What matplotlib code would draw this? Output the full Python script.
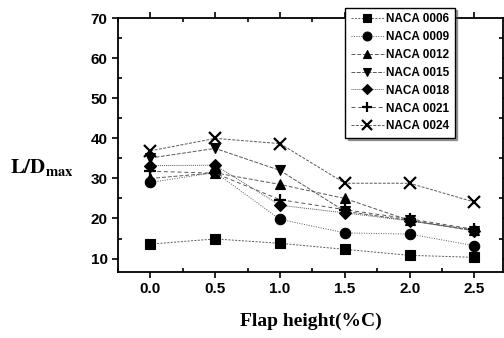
import numpy as np
from matplotlib import pyplot as plt
from matplotlib.ticker import MultipleLocator

plt.rcParams['mathtext.fontset'] = 'stix'

# =============================================================================

flap_height = [0.0, 0.5, 1.0, 1.5, 2.0, 2.5]

naca_0006 = [13.6, 14.9, 13.8, 12.3, 10.8, 10.3]
naca_0009 = [29.0, 31.5, 19.8, 16.4, 16.1, 13.2]
naca_0012 = [30.0, 31.4, 28.5, 25.0, 19.5, 17.1]
naca_0015 = [35.1, 37.5, 32.0, 21.8, 19.5, 16.9]
naca_0018 = [33.2, 33.3, 23.3, 21.4, 19.4, 17.0]
naca_0021 = [31.8, 31.3, 24.7, 22.2, 19.9, 17.3]
naca_0024 = [36.9, 40.0, 38.7, 28.8, 28.8, 24.1]

labels  = ["NACA 0006", "NACA 0009", "NACA 0012", "NACA 0015",
           "NACA 0018", "NACA 0021", "NACA 0024"]
series  = [naca_0006, naca_0009, naca_0012, naca_0015,
           naca_0018, naca_0021, naca_0024]
markers = ['s', 'o', '^', 'v', 'D', '+', 'x']
sizes   = [7, 7.5, 7.5, 7.5, 6.5, 8, 8]
styles  = [(0, (2, 1.5)), (0, (1, 1.5)), (0, (4, 2)), (0, (4, 1.5)),
           (0, (1, 1)), (0, (4, 3)), (0, (3, 1.5))]

# =============================================================================

fig = plt.figure(figsize=(5.04, 3.38), dpi=100)
ax  = fig.add_axes([0.234, 0.196, 0.764, 0.75])

for y, lab, m, ms, ls in zip(series, labels, markers, sizes, styles):
	ax.plot(flap_height, y, color='0.35', lw=0.7, linestyle=ls,
	        marker=m, markersize=ms, markerfacecolor='black',
	        markeredgecolor='black', markeredgewidth=1.6 if m in '+x' else 0.8,
	        label=lab)

ax.set_xlim(-0.25, 2.72)
ax.set_ylim(6.7, 70)
ax.xaxis.set_major_locator(MultipleLocator(0.5))
ax.xaxis.set_minor_locator(MultipleLocator(0.25))
ax.yaxis.set_major_locator(MultipleLocator(10))
ax.yaxis.set_minor_locator(MultipleLocator(5))

ax.tick_params(which='both', top=True, right=True, width=1.2)
ax.tick_params(which='major', direction='out', length=4, labelsize=11)
ax.tick_params(which='minor', direction='in', length=3)
for lbl in ax.get_xticklabels() + ax.get_yticklabels():
	lbl.set_fontweight('bold')
	lbl.set_family('Liberation Sans')

for s in ax.spines.values():
	s.set_linewidth(1.3)

ax.set_xlabel("Flap height(%C)", family='Liberation Serif', fontweight='bold',
              fontsize=14, labelpad=12)
fig.text(0.02, 0.505, r"$\mathbf{L/D_{max}}$", fontsize=15, ha='left', va='center')

leg = ax.legend(loc='upper left', bbox_to_anchor=(0.575, 1.065), frameon=True,
                fancybox=False, shadow=True, edgecolor='black',
                handlelength=2.8, handletextpad=0.2, borderpad=0.45,
                labelspacing=0.5, markerscale=0.85,
                prop={'family': 'Liberation Sans', 'weight': 'bold', 'size': 8.5})
leg.get_frame().set_linewidth(1.0)

plt.savefig("out.png", dpi=100)
